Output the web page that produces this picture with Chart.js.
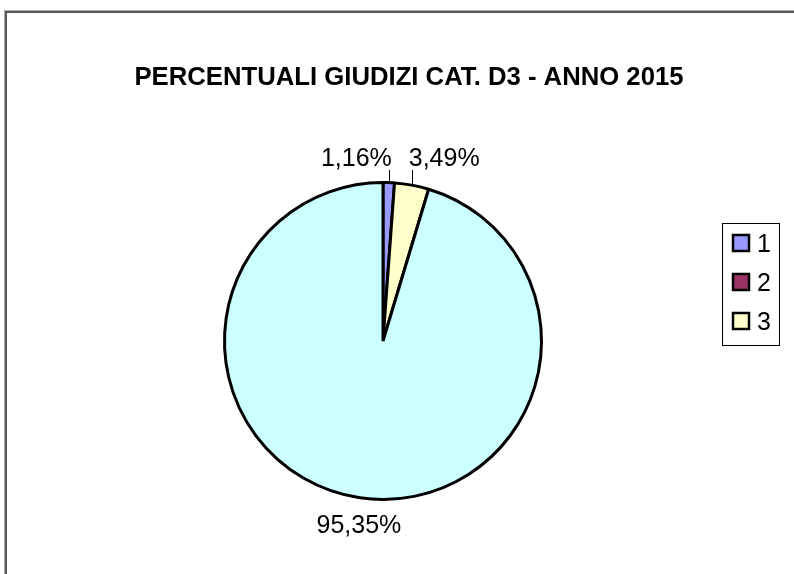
<!DOCTYPE html>
<html><head><meta charset="utf-8">
<script src="https://cdn.jsdelivr.net/npm/chart.js@4"></script>
<style>html,body{margin:0;padding:0;background:#fff}canvas{display:block}</style>
</head><body>
<canvas id="c" width="794" height="574"></canvas>
<script>
const categories = ['1', '2', '3', '4'];
const values = [1.16, 0, 3.49, 95.35];
const colors = ['#9999FF', '#993366', '#FFFFCC', '#CCFFFF'];
const legendCount = 3;
const titleText = 'PERCENTUALI GIUDIZI CAT. D3 - ANNO 2015';
const FONT = '"Liberation Sans", Arial, sans-serif';

const fmt = v => v.toFixed(2).replace('.', ',') + '%';
const labelStyle = [
  {align: 'right', dx: 3, baseline: 166, leader: true},
  null,
  {align: 'left', dx: -3, baseline: 166, leader: true},
  {align: 'center', dx: 0, baseline: 533, leader: false}
];

const deco = {
  id: 'deco',
  beforeDraw(chart) {
    const ctx = chart.ctx;
    ctx.save();
    ctx.fillStyle = '#fff';
    ctx.fillRect(0, 0, chart.width, chart.height);
    ctx.strokeStyle = '#aaa';
    ctx.lineWidth = 1;
    ctx.strokeRect(4.5, 10.5, 900, 900);
    ctx.strokeStyle = '#222';
    ctx.lineWidth = 1.5;
    ctx.strokeRect(6, 12, 900, 900);
    ctx.restore();
  },
  afterDraw(chart) {
    const ctx = chart.ctx;
    ctx.save();
    ctx.fillStyle = '#000';
    ctx.font = 'bold 25.7px ' + FONT;
    ctx.textAlign = 'center';
    ctx.textBaseline = 'alphabetic';
    ctx.fillText(titleText, 409, 85);
    const meta = chart.getDatasetMeta(0);
    ctx.font = '25px ' + FONT;
    meta.data.forEach((arc, i) => {
      const st = labelStyle[i];
      if (!st || values[i] === 0) return;
      const p = arc.getProps(['x', 'y', 'startAngle', 'endAngle', 'outerRadius']);
      const mid = (p.startAngle + p.endAngle) / 2;
      const ax = p.x + Math.cos(mid) * p.outerRadius;
      const ay = p.y + Math.sin(mid) * p.outerRadius;
      if (st.leader) {
        ctx.strokeStyle = '#000';
        ctx.lineWidth = 1;
        ctx.beginPath();
        ctx.moveTo(Math.round(ax) + 0.5, ay - 1);
        ctx.lineTo(Math.round(ax) + 0.5, st.baseline + 4);
        ctx.stroke();
      }
      ctx.textAlign = st.align;
      ctx.fillStyle = '#000';
      const tx = st.align === 'center' ? ax - 1 : ax + st.dx;
      ctx.fillText(fmt(values[i]), tx, st.baseline);
    });
    ctx.strokeStyle = '#000';
    ctx.lineWidth = 1;
    ctx.strokeRect(722.5, 223.5, 57, 122);
    ctx.font = '25px ' + FONT;
    ctx.textAlign = 'left';
    for (let i = 0; i < legendCount; i++) {
      const cy = 243 + i * 39;
      ctx.fillStyle = colors[i];
      ctx.fillRect(733, cy - 8, 16, 16);
      ctx.lineWidth = 2.5;
      ctx.strokeRect(733, cy - 8, 16, 16);
      ctx.fillStyle = '#000';
      ctx.fillText(categories[i], 757, cy + 9);
    }
    ctx.restore();
  }
};

new Chart(document.getElementById('c'), {
  type: 'pie',
  data: {
    labels: categories,
    datasets: [{
      data: values,
      backgroundColor: colors,
      borderColor: '#000',
      borderWidth: 3,
      hoverOffset: 0
    }]
  },
  options: {
    responsive: false,
    animation: false,
    events: [],
    layout: {padding: {left: 223, right: 251, top: 181, bottom: 73}},
    plugins: {legend: {display: false}, tooltip: {enabled: false}, title: {display: false}}
  },
  plugins: [deco]
});
</script>
</body></html>
